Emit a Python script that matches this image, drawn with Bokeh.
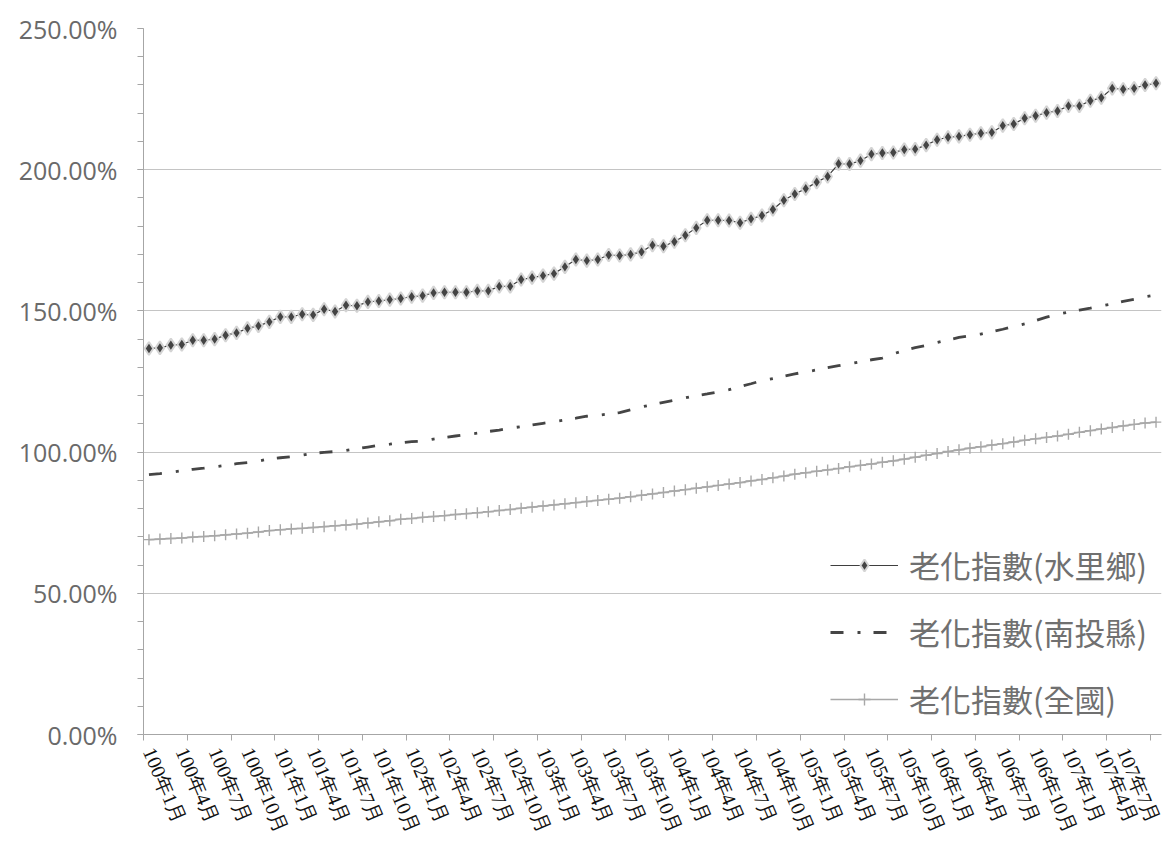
from bokeh.plotting import figure
from bokeh.models import (FixedTicker, PrintfTickFormatter, Range1d, Legend,
                          LegendItem, ColumnDataSource)
from bokeh.embed import file_html
from bokeh.resources import INLINE
import math

# ---------------- data ----------------
years = [100, 101, 102, 103, 104, 105, 106, 107]
months_in_last_year = 9
categories = [f"{y}年{m}月" for y in years for m in range(1, 13)
              if not (y == 107 and m > months_in_last_year)]

tick_labels = ["100年1月", "100年4月", "100年7月", "100年10月",
               "101年1月", "101年4月", "101年7月", "101年10月",
               "102年1月", "102年4月", "102年7月", "102年10月",
               "103年1月", "103年4月", "103年7月", "103年10月",
               "104年1月", "104年4月", "104年7月", "104年10月",
               "105年1月", "105年4月", "105年7月", "105年10月",
               "106年1月", "106年4月", "106年7月", "106年10月",
               "107年1月", "107年4月", "107年7月"]

shuili = [136.7, 136.9, 137.9, 138.1, 139.6, 139.6, 140.0, 141.4, 142.2, 143.8,
          144.7, 146.1, 147.9, 147.9, 148.8, 148.6, 150.6, 149.8, 152.0, 151.8,
          153.2, 153.5, 154.0, 154.4, 155.0, 155.4, 156.4, 156.6, 156.6, 156.6,
          157.1, 157.1, 158.7, 158.7, 161.1, 161.8, 162.5, 163.2, 165.6, 168.2,
          167.8, 168.2, 169.8, 169.6, 170.0, 170.9, 173.3, 172.9, 174.5, 176.8,
          179.4, 182.1, 182.1, 182.0, 181.2, 182.6, 183.8, 185.9, 189.2, 191.4,
          193.3, 195.6, 197.6, 202.1, 202.0, 203.2, 205.5, 205.9, 206.1, 207.1,
          207.3, 208.7, 210.6, 211.5, 211.8, 212.4, 212.9, 213.2, 215.6, 216.2,
          218.2, 219.1, 220.2, 220.8, 222.6, 222.6, 224.4, 225.5, 228.8, 228.5,
          228.8, 230.0, 230.6]

nantou = [92.0, 92.4, 92.9, 93.4, 93.9, 94.3, 94.8, 95.3, 95.9, 96.3,
          96.8, 97.6, 98.0, 98.4, 98.9, 99.6, 99.9, 100.2, 100.6, 101.2,
          101.8, 102.4, 102.8, 103.3, 103.7, 103.9, 104.6, 105.2, 105.7, 106.2,
          106.7, 107.3, 107.8, 108.5, 109.0, 109.6, 110.2, 110.8, 111.4, 112.0,
          112.7, 113.0, 113.5, 114.0, 115.0, 116.0, 116.8, 117.6, 118.4, 119.2,
          120.0, 120.6, 121.3, 122.1, 123.2, 124.2, 125.3, 126.0, 126.9, 127.7,
          128.4, 129.1, 129.9, 130.6, 131.3, 132.0, 132.7, 133.3, 134.8, 136.0,
          137.0, 137.8, 138.8, 139.7, 140.6, 141.2, 141.8, 142.6, 143.5, 144.5,
          145.4, 146.6, 147.8, 148.8, 149.6, 150.3, 151.0, 151.8, 152.5, 153.4,
          154.1, 155.0, 155.6]

national = [69.0, 69.2, 69.4, 69.6, 69.9, 70.1, 70.4, 70.7, 71.0, 71.3,
            71.7, 72.2, 72.5, 72.8, 73.0, 73.3, 73.6, 73.9, 74.2, 74.5,
            74.9, 75.3, 75.7, 76.2, 76.5, 76.9, 77.2, 77.5, 77.9, 78.2,
            78.5, 78.9, 79.3, 79.7, 80.1, 80.5, 80.9, 81.3, 81.7, 82.1,
            82.5, 82.9, 83.3, 83.7, 84.2, 84.7, 85.2, 85.7, 86.2, 86.7,
            87.2, 87.7, 88.2, 88.7, 89.2, 89.8, 90.3, 90.9, 91.5, 92.2,
            92.7, 93.2, 93.7, 94.2, 94.8, 95.3, 95.8, 96.4, 96.9, 97.5,
            98.2, 98.9, 99.5, 100.2, 100.8, 101.4, 101.9, 102.5, 103.0, 103.6,
            104.2, 104.7, 105.2, 105.7, 106.3, 107.0, 107.6, 108.2, 108.7, 109.3,
            109.8, 110.3, 110.6]

series_names = ["老化指數(水里鄉)", "老化指數(南投縣)", "老化指數(全國)"]
y_ticks = [0, 50, 100, 150, 200, 250]

# ---------------- figure ----------------
n = len(categories)
idx = list(range(n))
src = ColumnDataSource(dict(x=idx, shuili=shuili, nantou=nantou, national=national,
                            cat=categories))

p = figure(width=1164, height=843, output_backend="svg", toolbar_location=None,
           x_range=Range1d(-0.5, n - 0.5), y_range=Range1d(0, 250),
           min_border_left=143, min_border_top=28, min_border_right=3,
           min_border_bottom=109)
p.outline_line_color = None
p.background_fill_color = "white"
p.border_fill_color = "white"

axis_color = "#a6a6a6"

# x axis
label_pos = [categories.index(t) for t in tick_labels]
boundaries = [b - 0.5 for b in range(0, n, 4)]
xa = p.xaxis[0]
xa.ticker = FixedTicker(ticks=label_pos, minor_ticks=boundaries)
xa.major_label_overrides = {pos: lab for pos, lab in zip(label_pos, tick_labels)}
xa.major_tick_line_color = None
xa.minor_tick_line_color = axis_color
xa.minor_tick_out = 6
xa.minor_tick_in = 0
xa.axis_line_color = axis_color
xa.major_label_orientation = -math.radians(67)
xa.major_label_text_font = "serif"
xa.major_label_text_font_size = "20px"
xa.major_label_text_color = "#111111"
xa.major_label_standoff = 8

# y axis
ya = p.yaxis[0]
ya.ticker = FixedTicker(ticks=y_ticks, minor_ticks=list(range(0, 251, 10)))
ya.formatter = PrintfTickFormatter(format="%.2f%%")
ya.major_tick_out = 6
ya.major_tick_in = 0
ya.minor_tick_out = 6
ya.minor_tick_in = 0
ya.major_tick_line_color = axis_color
ya.minor_tick_line_color = axis_color
ya.axis_line_color = axis_color
ya.major_label_text_font = "Open Sans"
ya.major_label_text_font_size = "25px"
ya.major_label_text_color = "#6a6a6a"
ya.major_label_standoff = 20

p.xgrid.visible = False
p.ygrid.grid_line_color = "#c4c4c4"
p.ygrid.grid_line_width = 1

# series
l1 = p.line("x", "shuili", source=src, line_color="#3f3f3f", line_width=1.2)
s1 = p.scatter("x", "shuili", source=src, marker="diamond",
               size=13, fill_color="#444444", line_color="#d4d4d4", line_width=2)

l2 = p.line("x", "nantou", source=src, line_color="#454545", line_width=2.8,
            line_dash="13 14 3 13")

l3 = p.line("x", "national", source=src, line_color="#a8a8a8", line_width=1.6)
s3 = p.scatter("x", "national", source=src, marker="cross", size=11,
               line_color="#a8a8a8", line_width=1.4)

legend = Legend(items=[LegendItem(label=series_names[0], renderers=[l1, s1]),
                       LegendItem(label=series_names[1], renderers=[l2]),
                       LegendItem(label=series_names[2], renderers=[l3, s3])],
                location=(687, 13))
legend.background_fill_alpha = 0
legend.border_line_color = None
legend.padding = 0
legend.margin = 0
legend.spacing = 22
legend.glyph_width = 68
legend.glyph_height = 30
legend.label_height = 30
legend.label_standoff = 11
legend.label_text_font = "Noto Sans CJK TC"
legend.label_text_font_size = "31px"
legend.label_text_color = "#707070"
p.add_layout(legend)

open("out.html", "w").write(file_html(p, INLINE))
